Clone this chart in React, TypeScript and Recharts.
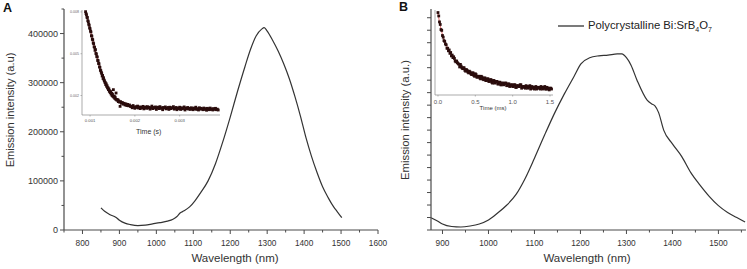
import React from 'react';
import { LineChart, Line, XAxis, YAxis, ComposedChart, Scatter, Legend } from 'recharts';

const FONT = '"Liberation Sans", Arial, Helvetica, sans-serif';
const AXIS = '#4a4a4a';
const TEXT = '#333333';

// ---------- Panel A: emission spectrum ----------
const wavelengthA = [850, 860, 875, 890, 900, 915, 930, 950, 970, 990, 1010, 1030, 1045, 1055, 1065, 1075, 1090, 1105, 1120, 1140, 1160, 1180, 1200, 1220, 1240, 1255, 1270, 1285, 1292, 1300, 1315, 1330, 1345, 1360, 1375, 1390, 1405, 1420, 1435, 1450, 1465, 1480, 1490, 1502];
const intensityA = [45000, 38000, 31000, 26000, 20000, 14000, 11000, 9000, 10000, 12500, 15000, 18000, 22000, 27000, 35000, 39000, 47000, 60000, 76000, 100000, 135000, 180000, 230000, 283000, 333000, 368000, 395000, 409000, 412000, 405000, 386000, 364000, 338000, 308000, 272000, 232000, 188000, 150000, 117000, 88000, 66000, 47000, 37000, 25000];
const ticksAX = [750, 800, 850, 900, 950, 1000, 1050, 1100, 1150, 1200, 1250, 1300, 1350, 1400, 1450, 1500, 1550, 1600];
const ticksAY = [0, 50000, 100000, 150000, 200000, 250000, 300000, 350000, 400000, 450000];

// ---------- Panel A inset: decay (time in ms, signal in 1e-3) ----------
const insetAPoints: [number, number][] = [
  [0.90, 8.02], [0.91, 7.88], [0.92, 7.80], [0.93, 7.62], [0.94, 7.60], [0.95, 7.38], [0.96, 7.30], [0.97, 7.12], [0.98, 7.05], [0.99, 6.86],
  [1.00, 6.80], [1.01, 6.62], [1.02, 6.56], [1.03, 6.30], [1.04, 6.26], [1.05, 6.04], [1.06, 6.00], [1.07, 5.78], [1.08, 5.72], [1.09, 5.50],
  [1.10, 5.46], [1.11, 5.24], [1.12, 5.30], [1.13, 5.02], [1.14, 4.98], [1.15, 4.80], [1.16, 4.76], [1.17, 4.52], [1.18, 4.50], [1.19, 4.30],
  [1.20, 4.28], [1.21, 4.06], [1.22, 4.02], [1.23, 3.82], [1.24, 3.78], [1.25, 3.66], [1.26, 3.58], [1.27, 3.40], [1.28, 3.44], [1.29, 3.22],
  [1.30, 3.28], [1.31, 3.12], [1.32, 3.06], [1.33, 2.96], [1.34, 2.92], [1.35, 2.78], [1.36, 2.84], [1.37, 2.66], [1.38, 2.70], [1.39, 2.54],
  [1.40, 2.56], [1.41, 2.42], [1.42, 2.48], [1.43, 2.30], [1.44, 2.34], [1.45, 2.20], [1.46, 2.28], [1.47, 2.10], [1.48, 2.16], [1.49, 2.00],
  [1.50, 2.10], [1.51, 1.94], [1.52, 2.42], [1.53, 1.88], [1.54, 1.96], [1.55, 1.80], [1.56, 1.88], [1.57, 1.74], [1.58, 2.18], [1.59, 1.72],
  [1.60, 1.66], [1.62, 1.70], [1.63, 1.56], [1.64, 1.62], [1.66, 1.52], [1.67, 1.22], [1.68, 1.56], [1.70, 1.44], [1.72, 1.50], [1.74, 1.38],
  [1.76, 1.44], [1.78, 1.32], [1.80, 1.40], [1.82, 1.28], [1.84, 1.36], [1.86, 1.26], [1.88, 1.32], [1.90, 1.22],
  [1.92, 1.22], [1.94, 1.12], [1.96, 1.28], [1.98, 1.16], [2.00, 1.08], [2.02, 1.20], [2.04, 1.14], [2.06, 1.24], [2.08, 1.10], [2.10, 1.18],
  [2.12, 1.06], [2.14, 1.16], [2.16, 1.12], [2.18, 1.22], [2.20, 1.04], [2.22, 1.14], [2.24, 1.18], [2.26, 1.08], [2.28, 1.20], [2.30, 1.10],
  [2.32, 1.16], [2.34, 1.02], [2.36, 1.12], [2.38, 1.24], [2.40, 1.06], [2.42, 1.14], [2.44, 1.10], [2.46, 1.18], [2.48, 1.00], [2.50, 1.12],
  [2.52, 1.16], [2.54, 1.06], [2.56, 1.20], [2.58, 1.08], [2.60, 1.12], [2.62, 0.98], [2.64, 1.14], [2.66, 1.10], [2.68, 1.18], [2.70, 1.04],
  [2.72, 1.08], [2.74, 1.14], [2.76, 1.00], [2.78, 1.16], [2.80, 1.06], [2.82, 1.12], [2.84, 1.10], [2.86, 1.20], [2.88, 1.02], [2.90, 1.08],
  [2.92, 1.14], [2.94, 0.98], [2.96, 1.10], [2.98, 1.06], [3.00, 1.16], [3.02, 1.00], [3.04, 1.12], [3.06, 1.04], [3.08, 1.08], [3.10, 1.18],
  [3.12, 0.96], [3.14, 1.10], [3.16, 1.06], [3.18, 1.14], [3.20, 1.02], [3.22, 1.08], [3.24, 1.00], [3.26, 1.12], [3.28, 1.06], [3.30, 0.98],
  [3.32, 1.10], [3.34, 1.04], [3.36, 1.16], [3.38, 1.00], [3.40, 1.06], [3.42, 0.96], [3.44, 1.12], [3.46, 1.02], [3.48, 1.08], [3.50, 1.04],
  [3.52, 0.98], [3.54, 1.10], [3.56, 1.00], [3.58, 1.06], [3.60, 0.94], [3.62, 1.08], [3.64, 1.02], [3.66, 0.98], [3.68, 1.10], [3.70, 1.00],
  [3.72, 1.04], [3.74, 0.96], [3.76, 1.06], [3.78, 1.00], [3.80, 1.08], [3.82, 0.98], [3.84, 1.02], [3.86, 0.96],
];
const insetAFitTime = [0.90, 0.95, 1.00, 1.05, 1.10, 1.15, 1.20, 1.25, 1.30, 1.35, 1.40, 1.45, 1.50, 1.55, 1.60, 1.70, 1.80, 1.90, 2.00, 2.20, 2.50, 3.00, 3.50, 3.86];
const insetAFitValue = [8.00, 7.40, 6.78, 6.10, 5.42, 4.82, 4.24, 3.62, 3.24, 2.80, 2.50, 2.22, 2.00, 1.82, 1.66, 1.46, 1.33, 1.25, 1.19, 1.13, 1.10, 1.07, 1.04, 1.02];
const insetATicksX = [1, 2, 3];
const insetATicksY = [2, 5, 8];

// ---------- Panel B: emission spectrum (a.u.) ----------
const wavelengthB = [875, 890, 900, 920, 940, 960, 980, 1000, 1020, 1040, 1060, 1080, 1100, 1122, 1143, 1165, 1186, 1201, 1220, 1240, 1260, 1280, 1290, 1300, 1310, 1323, 1345, 1355, 1362, 1370, 1381, 1400, 1420, 1440, 1460, 1480, 1500, 1520, 1540, 1558];
const intensityB = [0.98, 0.70, 0.48, 0.28, 0.24, 0.32, 0.48, 0.80, 1.36, 2.00, 2.85, 4.15, 5.75, 7.60, 9.30, 10.90, 12.30, 13.30, 13.80, 13.95, 14.00, 14.10, 14.10, 13.80, 13.20, 12.00, 10.40, 10.10, 9.95, 9.40, 8.00, 6.90, 5.90, 4.60, 3.60, 2.70, 1.95, 1.40, 1.00, 0.64];
const ticksBX = [900, 950, 1000, 1050, 1100, 1150, 1200, 1250, 1300, 1350, 1400, 1450, 1500, 1550];
const ticksBY = [0, 1, 2, 3, 4, 5, 6, 7, 8, 9, 10, 11, 12, 13, 14, 15, 16, 17];

// ---------- Panel B inset: decay (time in ms, normalized) ----------
const insetBPoints: [number, number][] = [
  [0.00, 0.97], [0.01, 0.93], [0.02, 0.86], [0.03, 0.83], [0.04, 0.77], [0.05, 0.76], [0.06, 0.70], [0.07, 0.68], [0.08, 0.64], [0.09, 0.63],
  [0.10, 0.60], [0.11, 0.59], [0.12, 0.55], [0.13, 0.55], [0.14, 0.52], [0.15, 0.53], [0.16, 0.49], [0.17, 0.50], [0.18, 0.46], [0.19, 0.47],
  [0.20, 0.44], [0.21, 0.45], [0.22, 0.43], [0.23, 0.40], [0.24, 0.39], [0.25, 0.40], [0.26, 0.38], [0.27, 0.37], [0.28, 0.36], [0.29, 0.33],
  [0.30, 0.36], [0.31, 0.34], [0.32, 0.32], [0.33, 0.31], [0.34, 0.32], [0.35, 0.32], [0.36, 0.29], [0.37, 0.28], [0.38, 0.30], [0.39, 0.29],
  [0.40, 0.27], [0.41, 0.26], [0.42, 0.28], [0.43, 0.27], [0.44, 0.25], [0.45, 0.24], [0.46, 0.26], [0.47, 0.26], [0.48, 0.23], [0.49, 0.22],
  [0.50, 0.25], [0.51, 0.24], [0.52, 0.21], [0.53, 0.21], [0.54, 0.22], [0.55, 0.22], [0.56, 0.20], [0.57, 0.19], [0.58, 0.22], [0.59, 0.21],
  [0.60, 0.19], [0.61, 0.18], [0.62, 0.20], [0.63, 0.20], [0.64, 0.17], [0.65, 0.17], [0.66, 0.19], [0.67, 0.19], [0.68, 0.16], [0.69, 0.16],
  [0.70, 0.18], [0.71, 0.18], [0.72, 0.15], [0.73, 0.14], [0.74, 0.17], [0.75, 0.17], [0.76, 0.14], [0.77, 0.15], [0.78, 0.16], [0.79, 0.16],
  [0.80, 0.13], [0.81, 0.13], [0.82, 0.15], [0.83, 0.15], [0.84, 0.12], [0.85, 0.12], [0.86, 0.14], [0.87, 0.14], [0.88, 0.12], [0.89, 0.13],
  [0.90, 0.14], [0.91, 0.14], [0.92, 0.11], [0.93, 0.11], [0.94, 0.13], [0.95, 0.13], [0.96, 0.10], [0.97, 0.11], [0.98, 0.12], [0.99, 0.12],
  [1.00, 0.10], [1.01, 0.10], [1.02, 0.12], [1.03, 0.12], [1.04, 0.09], [1.05, 0.09], [1.06, 0.11], [1.07, 0.11], [1.08, 0.10], [1.09, 0.10],
  [1.10, 0.12], [1.11, 0.12], [1.12, 0.08], [1.13, 0.09], [1.14, 0.10], [1.15, 0.10], [1.16, 0.09], [1.17, 0.08], [1.18, 0.11], [1.19, 0.10],
  [1.20, 0.08], [1.21, 0.09], [1.22, 0.10], [1.23, 0.11], [1.24, 0.07], [1.25, 0.08], [1.26, 0.10], [1.27, 0.09], [1.28, 0.08], [1.29, 0.07],
  [1.30, 0.09], [1.31, 0.10], [1.32, 0.07], [1.33, 0.08], [1.34, 0.09], [1.35, 0.09], [1.36, 0.08], [1.37, 0.07], [1.38, 0.10], [1.39, 0.09],
  [1.40, 0.07], [1.41, 0.08], [1.42, 0.09], [1.43, 0.10], [1.44, 0.07], [1.45, 0.07], [1.46, 0.09], [1.47, 0.08], [1.48, 0.07], [1.49, 0.06],
  [1.50, 0.08], [1.51, 0.08], [1.52, 0.07],
];
const insetBFitTime = [0, 0.02, 0.04, 0.06, 0.08, 0.10, 0.12, 0.14, 0.16, 0.18, 0.20, 0.25, 0.30, 0.35, 0.40, 0.45, 0.50, 0.60, 0.70, 0.80, 0.90, 1.00, 1.10, 1.20, 1.30, 1.40, 1.52];
const insetBFitValue = [0.96, 0.86, 0.78, 0.71, 0.65, 0.61, 0.57, 0.53, 0.50, 0.47, 0.445, 0.39, 0.345, 0.305, 0.275, 0.25, 0.228, 0.193, 0.165, 0.143, 0.126, 0.112, 0.100, 0.091, 0.084, 0.079, 0.075];
const insetBTicksX = [0, 0.5, 1, 1.5];

// ---------- derived tables ----------
const dataA = wavelengthA.map((w, i) => ({ w, v: intensityA[i] }));
const dataB = wavelengthB.map((w, i) => ({ w, v: intensityB[i] }));
const scatterA = insetAPoints.map(([t, v]) => ({ t, v }));
const fitA = insetAFitTime.map((t, i) => ({ t, v: insetAFitValue[i] }));
const scatterB = insetBPoints.map(([t, v]) => ({ t, v }));
const fitB = insetBFitTime.map((t, i) => ({ t, v: insetBFitValue[i] }));

// ---------- tick renderers ----------
const makeXTick = (majorStep: number) => (props: any) => {
  const { x, y, payload } = props;
  const v = payload.value;
  const major = Math.abs(v % majorStep) < 1e-9;
  return (
    <g>
      <line x1={x} y1={y} x2={x} y2={y + (major ? 4 : 2.5)} stroke={AXIS} strokeWidth={1} />
      {major && (
        <text x={x} y={y + 12.5} textAnchor="middle" dominantBaseline="central" fontSize={8.3} fill={TEXT} fontFamily={FONT}>
          {v}
        </text>
      )}
    </g>
  );
};

const yTickA = (props: any) => {
  const { x, y, payload } = props;
  const v = payload.value;
  const major = v % 100000 === 0;
  return (
    <g>
      <line x1={x} y1={y} x2={x - (major ? 4 : 2.5)} y2={y} stroke={AXIS} strokeWidth={1} />
      {major && (
        <text x={x - 6} y={y} textAnchor="end" dominantBaseline="central" fontSize={9} fill={TEXT} fontFamily={FONT}>
          {v}
        </text>
      )}
    </g>
  );
};

const yTickB = (props: any) => {
  const { x, y } = props;
  return <line x1={x} y1={y} x2={x - 4} y2={y} stroke={AXIS} strokeWidth={1} />;
};

const insetXTick = (fmt: (v: number) => string, fs: number, dy: number) => (props: any) => {
  const { x, y, payload } = props;
  return (
    <g>
      <line x1={x} y1={y} x2={x} y2={y + 1.5} stroke="#888" strokeWidth={0.6} />
      <text x={x} y={y + dy} textAnchor="middle" dominantBaseline="central" fontSize={fs} fill="#555" fontFamily={FONT}>
        {fmt(payload.value)}
      </text>
    </g>
  );
};

const insetAYTick = (props: any) => {
  const { x, y, payload } = props;
  return (
    <g>
      <line x1={x} y1={y} x2={x - 1.5} y2={y} stroke="#888" strokeWidth={0.6} />
      <text x={x - 3} y={y} textAnchor="end" dominantBaseline="central" fontSize={3.6} fill="#666" fontFamily={FONT}>
        {(payload.value / 1000).toFixed(3)}
      </text>
    </g>
  );
};

const square = (size: number) => (props: any) => {
  const { cx, cy } = props;
  return <rect x={cx - size / 2} y={cy - size / 2} width={size} height={size} fill="#2a0c0c" />;
};

const textLabel = (value: string, x: number, y: number, fontSize: number, rotate = false, color = TEXT) => ({
  content: () => (
    <text
      x={x}
      y={y}
      transform={rotate ? `rotate(-90 ${x} ${y})` : undefined}
      textAnchor="middle"
      dominantBaseline="central"
      fontSize={fontSize}
      fill={color}
      fontFamily={FONT}
    >
      {value}
    </text>
  ),
});

const LegendB = () => (
  <div style={{ display: 'flex', alignItems: 'center', fontFamily: FONT, fontSize: 11.3, color: '#222', whiteSpace: 'nowrap', lineHeight: '14px' }}>
    <svg width={26} height={4} style={{ display: 'block' }}>
      <line x1={0} y1={2} x2={26} y2={2} stroke="#333" strokeWidth={1.3} />
    </svg>
    <span style={{ marginLeft: 4 }}>
      Polycrystalline Bi:SrB<span style={{ fontSize: 7, position: 'relative', top: 3 }}>4</span>O
      <span style={{ fontSize: 7, position: 'relative', top: 3 }}>7</span>
    </span>
  </div>
);

const abs = (left: number, top: number): React.CSSProperties => ({ position: 'absolute', left, top });

export default function App() {
  return (
    <div style={{ position: 'fixed', left: 0, top: 0, width: 747, height: 269, background: '#fff', overflow: 'hidden', fontFamily: FONT }}>
      {/* Panel A main */}
      <div style={abs(0, 0)}>
        <LineChart width={390} height={269} data={dataA} margin={{ top: 9, right: 12, bottom: 0, left: 0 }}>
          <XAxis
            dataKey="w"
            type="number"
            domain={[750, 1600]}
            ticks={ticksAX}
            interval={0}
            height={39}
            tickSize={0}
            tickMargin={0}
            tickLine={false}
            axisLine={{ stroke: AXIS, strokeWidth: 1.2 }}
            tick={makeXTick(100)}
            label={textLabel('Wavelength (nm)', 235, 258, 11.5)}
          />
          <YAxis
            type="number"
            domain={[0, 450000]}
            ticks={ticksAY}
            interval={0}
            width={64}
            tickSize={0}
            tickMargin={0}
            tickLine={false}
            axisLine={{ stroke: AXIS, strokeWidth: 1.2 }}
            tick={yTickA}
            label={textLabel('Emission intensity (a.u)', 10, 110, 11.1, true)}
          />
          <Line dataKey="v" type="monotone" stroke="#333" strokeWidth={1.2} dot={false} isAnimationActive={false} />
        </LineChart>
      </div>

      {/* Panel A inset */}
      <div style={abs(62, 0)}>
        <ComposedChart width={170} height={140} margin={{ top: 10, right: 12, bottom: 0, left: 0 }}>
          <XAxis
            dataKey="t"
            type="number"
            domain={[0.82, 3.9]}
            ticks={insetATicksX}
            interval={0}
            height={25}
            tickSize={0}
            tickMargin={0}
            tickLine={false}
            axisLine={{ stroke: '#888', strokeWidth: 0.7 }}
            tick={insetXTick((v) => (v / 1000).toFixed(3), 4.2, 5.5)}
            label={textLabel('Time (s)', 86.7, 131.5, 7)}
          />
          <YAxis
            dataKey="v"
            type="number"
            domain={[0.6, 8.14]}
            ticks={insetATicksY}
            interval={0}
            width={20}
            tickSize={0}
            tickMargin={0}
            tickLine={false}
            axisLine={{ stroke: '#888', strokeWidth: 0.7 }}
            tick={insetAYTick}
          />
          <Scatter data={scatterA} dataKey="v" shape={square(2.8)} isAnimationActive={false} />
          <Line data={fitA} dataKey="v" type="monotone" stroke="#d02a2a" strokeWidth={0.7} dot={false} isAnimationActive={false} />
        </ComposedChart>
      </div>

      {/* Panel B main */}
      <div style={abs(377, 0)}>
        <LineChart width={370} height={269} data={dataB} margin={{ top: 9, right: 1, bottom: 0, left: 0 }}>
          <XAxis
            dataKey="w"
            type="number"
            domain={[875, 1560]}
            ticks={ticksBX}
            interval={0}
            height={39}
            tickSize={0}
            tickMargin={0}
            tickLine={false}
            axisLine={{ stroke: AXIS, strokeWidth: 1.2 }}
            tick={makeXTick(100)}
            label={textLabel('Wavelength (nm)', 210, 258, 11.5)}
          />
          <YAxis
            type="number"
            domain={[0, 17.7]}
            ticks={ticksBY}
            interval={0}
            width={54}
            tickSize={0}
            tickMargin={0}
            tickLine={false}
            axisLine={{ stroke: AXIS, strokeWidth: 1.2 }}
            tick={yTickB}
            label={textLabel('Emission intensity (a.u.)', 28, 120, 11.3, true)}
          />
          <Legend
            layout="vertical"
            align="center"
            verticalAlign="middle"
            wrapperStyle={{ left: 181, top: 18, width: 'auto' }}
            content={() => <LegendB />}
          />
          <Line dataKey="v" name="Polycrystalline Bi:SrB4O7" type="monotone" stroke="#333" strokeWidth={1.2} dot={false} isAnimationActive={false} />
        </LineChart>
      </div>

      {/* Panel B inset */}
      <div style={abs(415, 0)}>
        <ComposedChart width={150} height={115} margin={{ top: 10, right: 12, bottom: 0, left: 0 }}>
          <XAxis
            dataKey="t"
            type="number"
            domain={[-0.04, 1.54]}
            ticks={insetBTicksX}
            interval={0}
            height={20}
            tickSize={0}
            tickMargin={0}
            tickLine={false}
            axisLine={{ stroke: '#888', strokeWidth: 0.7 }}
            tick={insetXTick((v) => v.toFixed(1), 6, 6.5)}
            label={textLabel('Time (ms)', 78, 108, 6)}
          />
          <YAxis
            dataKey="v"
            type="number"
            domain={[0, 1]}
            ticks={[]}
            width={20}
            tickSize={0}
            tickLine={false}
            tick={false}
            axisLine={{ stroke: '#888', strokeWidth: 0.7 }}
          />
          <Scatter data={scatterB} dataKey="v" shape={square(2.8)} isAnimationActive={false} />
          <Line data={fitB} dataKey="v" type="monotone" stroke="#d02a2a" strokeWidth={0.7} dot={false} isAnimationActive={false} />
        </ComposedChart>
      </div>

      {/* Panel letters */}
      <div style={{ ...abs(3, 1), fontSize: 12.5, fontWeight: 'bold', color: '#111', lineHeight: '14px' }}>A</div>
      <div style={{ ...abs(399, 0), fontSize: 12.5, fontWeight: 'bold', color: '#111', lineHeight: '14px' }}>B</div>
    </div>
  );
}
